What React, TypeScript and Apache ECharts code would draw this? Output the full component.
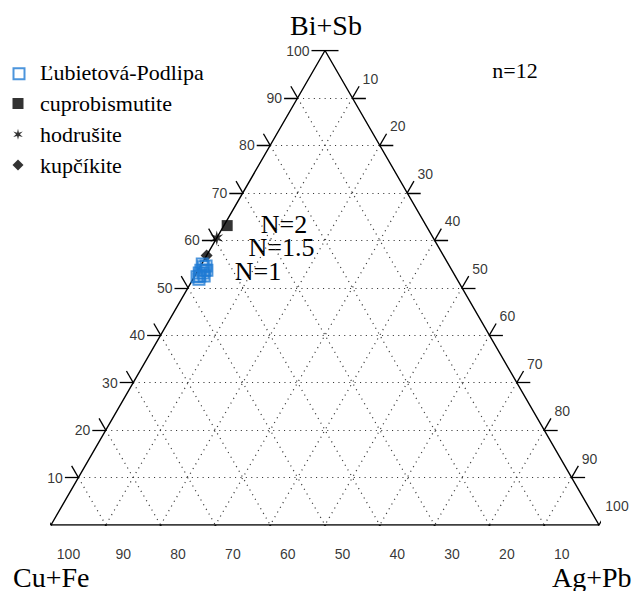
import React, { useEffect, useRef } from "react";
import * as echarts from "echarts";

// Ternary diagram: Bi+Sb (apex) / Cu+Fe (bottom left) / Ag+Pb (bottom right), all in %.
const H = Math.sqrt(3) / 2;

const vertexNames = ["Bi+Sb", "Cu+Fe", "Ag+Pb"];
const tickValues = [10, 20, 30, 40, 50, 60, 70, 80, 90, 100];
const gridValues = [10, 20, 30, 40, 50, 60, 70, 80, 90];

// Compositions: [Bi+Sb, Ag+Pb]; Cu+Fe is the remainder.
const podlipaBiSb = [55.0, 54.6, 54.4, 53.7, 53.7, 53.7, 53.1, 53.1, 52.5, 52.5, 52.3, 51.8];
const podlipaAgPb = [0.1, 1.0, 0.6, 1.2, 0.5, 1.6, 1.2, 0.5, 0.9, 1.7, 0.5, 1.1];
const cuprobismutite = [63.1, 0.6];
const hodrusite = [60.5, 0.0];
const kupcikite = [56.8, 0.0];

const seriesNames = ["Ľubietová-Podlipa", "cuprobismutite", "hodrušite", "kupčíkite"];
const ratioLabels = ["N=2", "N=1.5", "N=1"];
const countLabel = "n=12";

const SERIF = "Liberation Serif";
const SANS = "Liberation Sans";
const BLUE = "#1f7ad3";

// legend rows
const LEGEND_ICON_X = 12.5;
const LEGEND_TEXT_X = 40;
const LEGEND_ROW0 = 72.7;
const LEGEND_STEP = 30.8;
const ICON = 11;

const toXY = (biSb: number, agPb: number): [number, number] => [
  agPb / 100 + biSb / 200,
  (biSb / 100) * H,
];

// tick length in data units (plot is 548 px per unit on both axes)
const TICK = 13.5 / 548;

const add = (p: [number, number], d: [number, number], s: number): [number, number] => [
  p[0] + d[0] * s,
  p[1] + d[1] * s,
];

const dirH: [number, number] = [1, 0];
const dirCu: [number, number] = [0.5, -H]; // constant Cu+Fe lines, left edge -> base
const dirAg: [number, number] = [-0.5, -H]; // constant Ag+Pb lines, right edge -> base

function buildGrid() {
  const segs: [number, number][][] = [];
  gridValues.forEach((v) => {
    segs.push([toXY(v, 0), toXY(v, 100 - v)]);
    segs.push([toXY(100 - v, 0), toXY(0, 100 - v)]);
    segs.push([toXY(100 - v, v), toXY(0, v)]);
  });
  return segs;
}

function buildTicks() {
  const segs: [number, number][][] = [];
  tickValues.forEach((v) => {
    const hl = toXY(v, 0);
    const hr = toXY(v, 100 - v);
    segs.push([hl, add(hl, dirH, -TICK)]);
    segs.push([hr, add(hr, dirH, TICK)]);
    const cl = toXY(100 - v, 0);
    const cb = toXY(0, 100 - v);
    segs.push([cl, add(cl, dirCu, -TICK)]);
    segs.push([cb, add(cb, dirCu, TICK)]);
    const ar = toXY(100 - v, v);
    const ab = toXY(0, v);
    segs.push([ar, add(ar, dirAg, -TICK)]);
    segs.push([ab, add(ab, dirAg, TICK)]);
  });
  return segs;
}

function starPath() {
  const pts: string[] = [];
  for (let i = 0; i < 12; i++) {
    const a = -Math.PI / 2 + (i * Math.PI) / 6;
    const r = i % 2 === 0 ? 10 : 3.4;
    pts.push(`${(r * Math.cos(a)).toFixed(3)} ${(r * Math.sin(a)).toFixed(3)}`);
  }
  return "path://M" + pts.join(" L") + " Z";
}

const tickLabel = (
  name: string,
  data: { value: [number, number]; text: string }[],
  offset: number[],
  align: string
) => ({
  type: "scatter",
  name,
  silent: true,
  symbolSize: 0,
  z: 5,
  data: data.map((d) => ({ value: d.value, text: d.text })),
  label: {
    show: true,
    position: "inside",
    offset,
    align,
    verticalAlign: "middle",
    formatter: (p: any) => p.data.text,
    fontFamily: SANS,
    fontSize: 14,
    color: "#000",
  },
});

const textEl = (x: number, y: number, text: string, size: number, align = "center") => ({
  type: "text",
  x,
  y,
  style: {
    text,
    fontFamily: SERIF,
    fontSize: size,
    fill: "#000",
    align,
    verticalAlign: "middle",
  },
});

export default function App() {
  const ref = useRef<HTMLDivElement>(null);

  useEffect(() => {
    const chart = echarts.init(ref.current!, null, { renderer: "svg" });

    const leftLabels = tickValues.map((v) => ({ value: toXY(v, 0), text: String(v) }));
    const bottomLabels = tickValues.map((v) => ({ value: toXY(0, 100 - v), text: String(v) }));
    const rightLabels = tickValues.map((v) => ({ value: toXY(100 - v, v), text: String(v) }));

    const frame = [toXY(0, 0), toXY(0, 100), toXY(100, 0), toXY(0, 0)];

    // one legend per row: icon from the series, name drawn beside it in serif
    const legends = seriesNames.map((name, i) => ({
      left: LEGEND_ICON_X,
      top: LEGEND_ROW0 + i * LEGEND_STEP - ICON / 2,
      padding: 0,
      itemWidth: ICON,
      itemHeight: ICON,
      selectedMode: false,
      data: [name],
      formatter: () => "",
    }));

    const legendTexts = seriesNames.map((name, i) =>
      textEl(LEGEND_TEXT_X, LEGEND_ROW0 + i * LEGEND_STEP, name, 22, "left")
    );

    chart.setOption({
      animation: false,
      backgroundColor: "#fff",
      grid: { left: 51, right: 35, top: 50.5, bottom: 66 },
      xAxis: { type: "value", min: 0, max: 1, show: false },
      yAxis: { type: "value", min: 0, max: H, show: false },
      legend: legends,
      graphic: [
        textEl(326, 25, vertexNames[0], 28),
        textEl(13, 577, vertexNames[1], 28, "left"),
        textEl(552, 577, vertexNames[2], 28, "left"),
        textEl(515, 70, countLabel, 22),
        textEl(284, 224, ratioLabels[0], 26),
        textEl(281.5, 247, ratioLabels[1], 26),
        textEl(258, 271, ratioLabels[2], 26),
        ...legendTexts,
      ],
      series: [
        {
          type: "lines",
          coordinateSystem: "cartesian2d",
          silent: true,
          z: 1,
          data: buildGrid().map((c) => ({ coords: c })),
          lineStyle: { color: "#3a3a3a", width: 1.2, type: [1.1, 4.3], opacity: 1 },
        },
        {
          type: "lines",
          coordinateSystem: "cartesian2d",
          silent: true,
          z: 1,
          data: buildTicks().map((c) => ({ coords: c })),
          lineStyle: { color: "#000", width: 1.3, type: "solid", opacity: 1 },
        },
        {
          type: "line",
          silent: true,
          z: 1,
          symbol: "none",
          data: frame,
          lineStyle: { color: "#000", width: 1.4 },
        },
        tickLabel("leftTicks", leftLabels, [-15.5, 0], "right"),
        tickLabel("bottomTicks", bottomLabels, [17.5, 29], "center"),
        tickLabel("rightTicks", rightLabels, [18, -19], "center"),
        {
          type: "scatter",
          name: seriesNames[3],
          z: 2,
          symbol: "diamond",
          symbolSize: 12,
          itemStyle: { color: "#000" },
          data: [toXY(kupcikite[0], kupcikite[1])],
        },
        {
          type: "scatter",
          name: seriesNames[0],
          z: 3,
          symbol: "rect",
          symbolSize: 11,
          itemStyle: { color: "rgba(255,255,255,0)", borderColor: BLUE, borderWidth: 2 },
          data: podlipaBiSb.map((b, i) => toXY(b, podlipaAgPb[i])),
        },
        {
          type: "scatter",
          name: seriesNames[1],
          z: 4,
          symbol: "rect",
          symbolSize: 11,
          itemStyle: { color: "#000" },
          data: [toXY(cuprobismutite[0], cuprobismutite[1])],
        },
        {
          type: "scatter",
          name: seriesNames[2],
          z: 4,
          symbol: starPath(),
          symbolKeepAspect: true,
          symbolSize: 15,
          itemStyle: { color: "#000" },
          data: [toXY(hodrusite[0], hodrusite[1])],
        },
      ],
    });

    return () => chart.dispose();
  }, []);

  return (
    <div
      ref={ref}
      style={{ position: "absolute", left: 0, top: 0, width: 634, height: 591, background: "#fff" }}
    />
  );
}
